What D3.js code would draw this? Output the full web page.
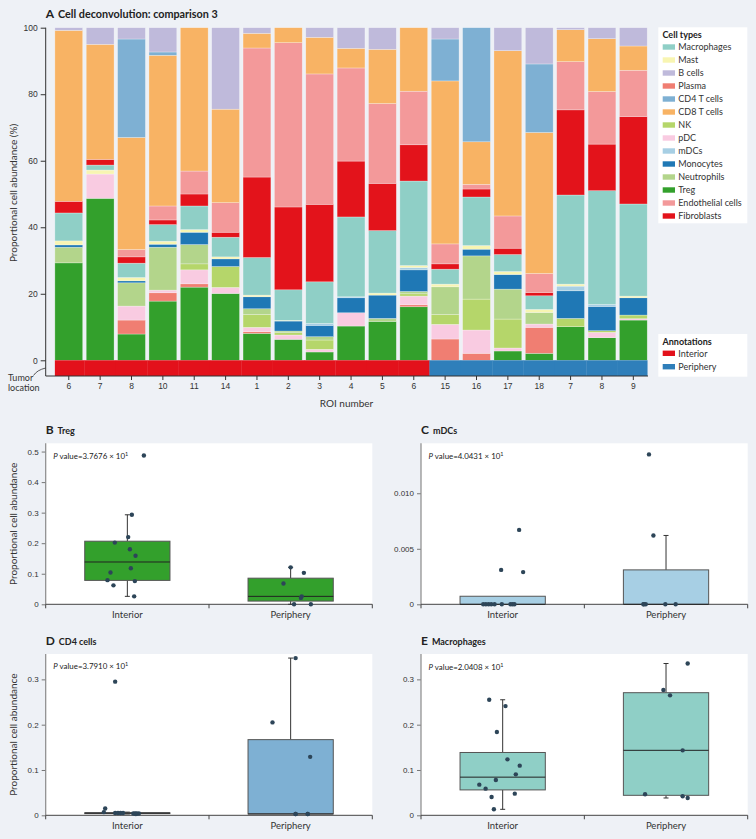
<!DOCTYPE html>
<html><head><meta charset="utf-8">
<script src="https://cdn.jsdelivr.net/npm/d3@7"></script>
<style>
html,body{margin:0;padding:0;background:#eef1f6;}
svg{display:block;font-family:Lato,'Open Sans',sans-serif;}
</style></head><body>
<svg id="c" width="756" height="839"></svg>
<script>
// ---------- DATA: Panel A (percent per ROI) ----------
const roi = ["6","7","8","10","11","14","1","2","3","4","5","6","15","16","17","18","7","8","9"];
const tumorLocation = ["Interior","Interior","Interior","Interior","Interior","Interior","Interior","Interior","Interior","Interior","Interior","Interior","Periphery","Periphery","Periphery","Periphery","Periphery","Periphery","Periphery"];
const treg   = [29.3,48.7,7.9,17.8,22.0,20.1,8.1,6.3,2.5,10.3,11.7,16.1,0,0,2.8,2.1,10.1,6.8,12.1];
const plasma = [0,0,4.2,2.5,1.0,0,0.5,0,0,0,0,0.6,6.4,2.1,0,7.8,0,0,0];
const pdc    = [0,7.3,4.2,0.8,4.2,1.8,1.3,1.3,0.8,4.0,0,2.6,4.4,7.0,0.9,1.0,0,1.6,0.4];
const nk     = [0,0,0,0,1.8,6.3,3.9,0.7,2.8,0,0,0.7,3.0,9.3,8.7,0,2.5,0.5,1.1];
const neutrophils = [4.7,0,7.0,12.9,5.8,0,1.7,0.5,1.0,0,0.9,0.7,8.3,13.0,9.0,3.5,0,0,0];
const monocytes   = [0.7,0,0.6,0.9,3.7,2.3,3.6,3.0,3.4,4.5,7.0,6.5,0,2.0,4.4,0,8.3,7.3,5.2];
const mdcs   = [0,0,0,0,0,0,0,0,0.6,0.3,0,0.7,0,0,0,0,1.4,0.6,0];
const mast   = [1.2,1.2,1.0,0.9,0.8,0.6,0.5,0.2,0,0,0.6,0.6,0.8,1.1,0.9,0.9,0.6,0,0.5];
const macrophages = [8.4,1.5,4.3,5.0,7.1,5.9,11.3,9.2,12.5,24.0,18.8,25.4,4.5,14.6,5.1,4.1,26.8,34.2,27.7];
const fibroblasts = [3.5,1.7,1.9,1.4,3.6,1.5,24.2,24.9,23.3,16.8,14.2,10.9,1.6,2.4,1.9,1.0,25.6,14.0,26.3];
const endothelial = [0,0,2.2,4.2,6.9,8.9,38.8,49.4,39.2,28.0,24.0,16.1,6.0,1.4,9.7,5.7,14.5,15.8,13.9];
const cd8    = [51.4,34.6,33.7,45.3,43.1,28.1,4.4,4.5,11.0,5.9,16.3,19.1,49.0,12.8,49.7,42.4,9.6,15.9,7.3];
const cd4    = [0,0,29.6,1.0,0,0,0,0,0,0,0,0,12.6,34.3,0,20.6,0,0,0];
const bcells = [0.8,5.0,3.4,7.3,0,24.5,1.7,0,2.9,6.2,6.5,0,3.4,0,6.9,10.9,0.6,3.3,5.5];

const legendOrder = ["Macrophages","Mast","B cells","Plasma","CD4 T cells","CD8 T cells","NK","pDC","mDCs","Monocytes","Neutrophils","Treg","Endothelial cells","Fibroblasts"];
const stackOrder  = ["Treg","Plasma","pDC","NK","Neutrophils","Monocytes","mDCs","Mast","Macrophages","Fibroblasts","Endothelial cells","CD8 T cells","CD4 T cells","B cells"];
const seriesByName = {"Treg":treg,"Plasma":plasma,"pDC":pdc,"NK":nk,"Neutrophils":neutrophils,"Monocytes":monocytes,"mDCs":mdcs,"Mast":mast,"Macrophages":macrophages,"Fibroblasts":fibroblasts,"Endothelial cells":endothelial,"CD8 T cells":cd8,"CD4 T cells":cd4,"B cells":bcells};
const yTicksA = [0,20,40,60,80,100];

// ---------- DATA: Box panels (proportions) ----------
const tregInterior = [0.487,0.293,0.220,0.202,0.180,0.159,0.118,0.104,0.079,0.076,0.062,0.026];
const tregInteriorJitter = [0.194,0.053,0.01,-0.147,0.03,0.096,0.041,-0.198,-0.233,0.088,-0.163,0.08];
const tregPeriphery = [0.121,0.103,0.068,0.026,0.021,0,0];
const tregPeripheryJitter = [0,0.155,-0.084,0.13,0.12,0.04,0.237];
const mdcInterior = [0.0067,0.0031,0.0029,0,0,0,0,0,0,0,0,0];
const mdcInteriorJitter = [0.193,-0.018,0.24,-0.228,-0.197,-0.165,-0.134,-0.095,-0.01,0.091,0.115,0.138];
const mdcPeriphery = [0.0135,0.0062,0,0,0,0,0];
const mdcPeripheryJitter = [-0.2,-0.148,-0.266,-0.238,-0.008,0.113,-0.26];
const cd4Interior = [0.295,0.015,0.007,0.005,0.005,0.005,0.005,0.004,0.004,0.004,0.004,0.003];
const cd4InteriorJitter = [-0.143,-0.26,-0.276,-0.143,-0.11,-0.08,-0.05,0.07,0.09,0.11,0.135,0.1];
const cd4Periphery = [0.347,0.205,0.129,0.003,0.003,0.003,0.003];
const cd4PeripheryJitter = [0.058,-0.213,0.229,0.058,0.2,0.058,0.2];
const macInterior = [0.255,0.241,0.184,0.1235,0.1096,0.0904,0.078,0.0676,0.0588,0.0404,0.0478,0.0132];
const macInteriorJitter = [-0.158,0.033,-0.068,0.056,0.2,0.154,-0.08,-0.274,-0.2,-0.13,0.142,-0.103];
const macPeriphery = [0.335,0.2765,0.2647,0.1434,0.0463,0.0419,0.0382];
const macPeripheryJitter = [0.254,-0.031,0.047,0.195,-0.246,0.195,0.254];
const groups = ["Interior","Periphery"];

// ---------- STYLE ----------
const colors = {"Macrophages":"#8fcfc6","Mast":"#f8f5b2","B cells":"#bfbadb","Plasma":"#f07e72","CD4 T cells":"#7eb0d3","CD8 T cells":"#f8b364","NK":"#b5d66a","pDC":"#f9cbe1","mDCs":"#a7cfe4","Monocytes":"#1f78b5","Neutrophils":"#b3d58b","Treg":"#33a02c","Endothelial cells":"#f3999a","Fibroblasts":"#e3131b"};
const locColors = {"Interior":"#e3111b","Periphery":"#2f7fba"};
const bg = "#eef1f6", axisDark = "#333", txt = "#333", dotColor = "#2d4558";

const svg = d3.select("#c");
svg.append("rect").attr("width",756).attr("height",839).attr("fill",bg);

// ================= PANEL A =================
const yA = d3.scaleLinear().domain([0,100]).range([360.3,27.7]);
const xA = d3.scaleBand().domain(d3.range(roi.length)).range([53.1,649]).paddingInner(0.113).paddingOuter(0.0565);
const rows = roi.map((r,i)=>{const o={idx:i}; stackOrder.forEach(k=>o[k]=seriesByName[k][i]); return o;});
const stacked = d3.stack().keys(stackOrder)(rows);
const gA = svg.append("g");
gA.selectAll("g.layer").data(stacked).join("g").attr("class","layer")
  .attr("fill",d=>colors[d.key])
  .selectAll("rect").data(d=>d.filter(s=>s[1]-s[0]>0)).join("rect")
  .attr("x",d=>xA(d.data.idx)).attr("width",xA.bandwidth())
  .attr("y",d=>yA(d[1])).attr("height",d=>yA(d[0])-yA(d[1]))
  .attr("stroke","rgba(255,255,255,0.45)").attr("stroke-width",0.6);

// annotation strip
const stripTop = 360.3, stripBot = 376;
const half = (xA.step()-xA.bandwidth())/2;
roi.forEach((r,i)=>{
  let x0 = xA(i)-half, x1 = xA(i)+xA.bandwidth()+half;
  if(i===0) x0 = xA(i);
  if(i===roi.length-1) x1 = xA(i)+xA.bandwidth();
  gA.append("rect").attr("x",x0).attr("width",x1-x0+0.3).attr("y",stripTop).attr("height",stripBot-stripTop)
    .attr("fill",locColors[tumorLocation[i]]);
});

// axes
const axL = gA.append("g").attr("transform","translate(45.7,0)")
  .call(d3.axisLeft(yA).tickValues(yTicksA).tickSize(5).tickPadding(3));
axL.select(".domain").remove();
axL.selectAll("line").attr("stroke",axisDark);
axL.selectAll("text").attr("font-size",8.5).attr("fill",txt);
gA.append("line").attr("x1",45.7).attr("x2",45.7).attr("y1",27.7).attr("y2",376).attr("stroke",axisDark);
const axB = gA.append("g").attr("transform","translate(0,376)")
  .call(d3.axisBottom(xA).tickFormat(i=>roi[i]).tickSize(4).tickPadding(3));
axB.select(".domain").remove();
axB.selectAll("line").attr("stroke",axisDark);
axB.selectAll("text").attr("font-size",8.5).attr("fill",txt);
gA.append("line").attr("x1",45.7).attr("x2",648).attr("y1",376).attr("y2",376).attr("stroke",axisDark);

gA.append("text").attr("x",346.5).attr("y",407).attr("text-anchor","middle").attr("font-size",10).attr("fill",txt).text("ROI number");
gA.append("text").attr("transform","translate(17,193) rotate(-90)").attr("text-anchor","middle").attr("font-size",10).attr("fill",txt).text("Proportional cell abundance (%)");
gA.append("text").attr("x",8).attr("y",381).attr("font-size",9).attr("fill",txt).text("Tumor");
gA.append("text").attr("x",8).attr("y",390.5).attr("font-size",9).attr("fill",txt).text("location");
gA.append("path").attr("d","M33.5,375.5 Q37,370 45.7,368").attr("fill","none").attr("stroke",axisDark).attr("stroke-width",0.8);

const tA = gA.append("text").attr("x",45.7).attr("y",18).attr("fill","#222").attr("font-weight","bold");
tA.append("tspan").attr("font-size",12).text("A");
tA.append("tspan").attr("font-size",10.8).attr("dx",4).text("Cell deconvolution: comparison 3");

// legend
const lg = svg.append("g");
lg.append("rect").attr("x",658.3).attr("y",27.3).attr("width",89).attr("height",196).attr("fill","#fff");
lg.append("text").attr("x",662.5).attr("y",37.5).attr("font-size",9).attr("font-weight","bold").attr("fill","#222").text("Cell types");
legendOrder.forEach((k,i)=>{
  const cy = 47+i*13;
  lg.append("rect").attr("x",662.7).attr("y",cy-2.7).attr("width",12.3).attr("height",5.4).attr("fill",colors[k]);
  lg.append("text").attr("x",678.3).attr("y",cy+3.2).attr("font-size",9).attr("fill",txt).text(k);
});
lg.append("rect").attr("x",658.3).attr("y",334).attr("width",89).attr("height",42.7).attr("fill","#fff");
lg.append("text").attr("x",662.5).attr("y",344.5).attr("font-size",9).attr("font-weight","bold").attr("fill","#222").text("Annotations");
groups.forEach((k,i)=>{
  const cy = 353.3+i*13.4;
  lg.append("rect").attr("x",662.7).attr("y",cy-2.7).attr("width",12.3).attr("height",5.4).attr("fill",locColors[k]);
  lg.append("text").attr("x",678.3).attr("y",cy+3.2).attr("font-size",9).attr("fill",txt).text(k);
});

// ================= BOX PANELS =================
function boxPanel(cfg){
  const g = svg.append("g");
  const y = d3.scaleLinear().domain([0,cfg.ymax]).range([cfg.yb,cfg.yt]);
  const x = d3.scaleBand().domain(groups).range([cfg.x0,cfg.x1]);
  g.append("rect").attr("x",cfg.x0).attr("y",cfg.yt).attr("width",cfg.x1-cfg.x0).attr("height",cfg.yb-cfg.yt).attr("fill","#fff");
  const ay = g.append("g").attr("transform",`translate(${cfg.x0},0)`)
    .call(d3.axisLeft(y).tickValues(cfg.ticks).tickFormat(cfg.fmt).tickSize(4).tickPadding(3));
  ay.select(".domain").remove();
  ay.selectAll("line").attr("stroke","#777");
  ay.selectAll("text").attr("font-size",8).attr("fill",txt);
  g.append("line").attr("x1",cfg.x0).attr("x2",cfg.x0).attr("y1",cfg.yt).attr("y2",cfg.yb).attr("stroke","#8a8a8a").attr("stroke-width",1.2);
  g.append("line").attr("x1",cfg.x0).attr("x2",cfg.x1).attr("y1",cfg.yb).attr("y2",cfg.yb).attr("stroke","#444");
  [cfg.x0,(cfg.x0+cfg.x1)/2,cfg.x1].forEach(xx=>g.append("line").attr("x1",xx).attr("x2",xx).attr("y1",cfg.yb).attr("y2",cfg.yb+4).attr("stroke","#444"));
  groups.forEach(gr=>g.append("text").attr("x",x(gr)+x.bandwidth()/2).attr("y",cfg.yb+13.5).attr("text-anchor","middle").attr("font-size",9.5).attr("fill",txt).text(gr));
  const bw = x.bandwidth()*0.522;
  cfg.sets.forEach((vals,gi)=>{
    const cx = x(groups[gi])+x.bandwidth()/2;
    const s = vals.slice().sort(d3.ascending);
    const q1 = d3.quantile(s,0.25), med = d3.quantile(s,0.5), q3 = d3.quantile(s,0.75);
    const iqr = q3-q1;
    const hi = d3.max(s.filter(v=>v<=q3+1.5*iqr));
    const lo = d3.min(s.filter(v=>v>=q1-1.5*iqr));
    if(hi>q3){
      g.append("line").attr("x1",cx).attr("x2",cx).attr("y1",y(q3)).attr("y2",y(hi)).attr("stroke","#333");
      g.append("line").attr("x1",cx-2.5).attr("x2",cx+2.5).attr("y1",y(hi)).attr("y2",y(hi)).attr("stroke","#333");
    }
    if(lo<q1){
      g.append("line").attr("x1",cx).attr("x2",cx).attr("y1",y(q1)).attr("y2",y(lo)).attr("stroke","#333");
      g.append("line").attr("x1",cx-2.5).attr("x2",cx+2.5).attr("y1",y(lo)).attr("y2",y(lo)).attr("stroke","#333");
    }
    g.append("rect").attr("x",cx-bw/2).attr("width",bw).attr("y",y(q3)).attr("height",Math.max(0.8,y(q1)-y(q3)))
      .attr("fill",cfg.color).attr("stroke","#555").attr("stroke-width",1);
    g.append("line").attr("x1",cx-bw/2).attr("x2",cx+bw/2).attr("y1",y(med)).attr("y2",y(med)).attr("stroke","#222").attr("stroke-width",1);
    const jit = cfg.jitters[gi];
    g.selectAll(null).data(vals).join("circle")
      .attr("cx",(d,i)=>cx+jit[i]*bw).attr("cy",d=>y(d)).attr("r",2.2).attr("fill",dotColor);
  });
  const t = g.append("text").attr("x",cfg.x0).attr("y",cfg.yt-9).attr("fill","#222").attr("font-weight","bold");
  t.append("tspan").attr("font-size",12).text(cfg.letter);
  t.append("tspan").attr("font-size",9).attr("dx",4).text(cfg.title);
  const p = g.append("text").attr("x",cfg.x0+7.6).attr("y",cfg.pY).attr("font-size",7.9).attr("fill","#222");
  p.append("tspan").attr("font-style","italic").text("P");
  p.append("tspan").text(" value=" + cfg.p + " × 10");
  p.append("tspan").attr("font-size",5.5).attr("dy",-3.5).text("1");
  if(cfg.ylabel){
    g.append("text").attr("transform",`translate(17,${(cfg.yt+cfg.yb)/2}) rotate(-90)`).attr("text-anchor","middle").attr("font-size",10).attr("fill",txt).text(cfg.ylabel);
  }
}
const fmt1 = d=>d===0?"0":d3.format(".1f")(d);
const fmt3 = d=>d===0?"0":d3.format(".3f")(d);
boxPanel({x0:45.7,x1:372.3,yt:443.3,yb:604.3,ymax:0.527,ticks:[0,0.1,0.2,0.3,0.4,0.5],fmt:fmt1,color:colors["Treg"],
  sets:[tregInterior,tregPeriphery],jitters:[tregInteriorJitter,tregPeripheryJitter],letter:"B",title:"Treg",p:"3.7676",pY:459,ylabel:"Proportional cell abundance"});
boxPanel({x0:421,x1:747.7,yt:443.3,yb:604.3,ymax:0.0145,ticks:[0,0.005,0.010],fmt:fmt3,color:colors["mDCs"],
  sets:[mdcInterior,mdcPeriphery],jitters:[mdcInteriorJitter,mdcPeripheryJitter],letter:"C",title:"mDCs",p:"4.0431",pY:459});
boxPanel({x0:45.7,x1:372.3,yt:654,yb:815.3,ymax:0.356,ticks:[0,0.1,0.2,0.3],fmt:fmt1,color:colors["CD4 T cells"],
  sets:[cd4Interior,cd4Periphery],jitters:[cd4InteriorJitter,cd4PeripheryJitter],letter:"D",title:"CD4 cells",p:"3.7910",pY:669,ylabel:"Proportional cell abundance"});
boxPanel({x0:421,x1:747.7,yt:654,yb:815.3,ymax:0.356,ticks:[0,0.1,0.2,0.3],fmt:fmt1,color:colors["Macrophages"],
  sets:[macInterior,macPeriphery],jitters:[macInteriorJitter,macPeripheryJitter],letter:"E",title:"Macrophages",p:"2.0408",pY:670});
</script>
</body></html>
